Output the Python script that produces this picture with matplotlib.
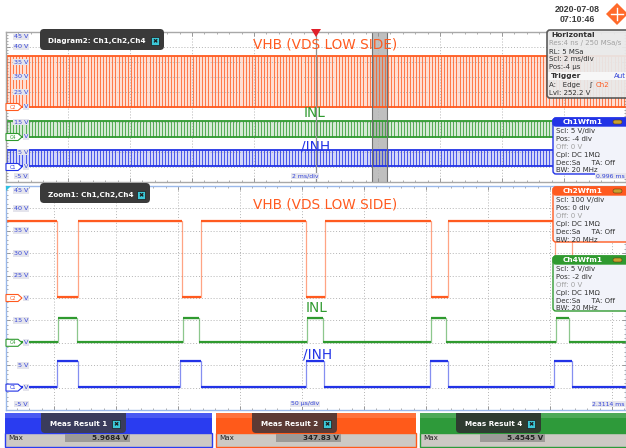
import matplotlib
matplotlib.use('Agg')
import matplotlib.pyplot as plt
import numpy as np
from matplotlib.patches import Rectangle, FancyBboxPatch, Polygon

W, H = 626, 448
fig = plt.figure(figsize=(W / 100, H / 100), dpi=100)
plt.rcParams['font.family'] = ['DejaVu Sans']

ORANGE = '#ff5a1f'
GREEN = '#2f9a2f'
BLUE = '#2233e6'
TXTBLUE = '#3545d8'

# ---------------- data ----------------
volt_ticks = [45, 40, 35, 30, 25, 20, 15, 10, 5, 0, -5]
volt_labels = ['45 V', '40 V', '35 V', '30 V', '25 V', 'V', '15 V', 'V', '5 V', 'V', '-5 V']

# overview (Diagram2), time in ms, 2 ms/div
top_xlim = (-10.0, 10.0)
top_period_ms = 0.1            # one switching period (read from zoom: ~100 us)
zoom_window_ms = (1.8, 2.3)

vhb_high, vhb_low = 37.0, 20.0
inl_high, inl_low = 15.3, 10.0
inh_high, inh_low = 5.5, 0.3

# zoom (Zoom1), time in us, 50 us/div
bot_xlim = (-38.7, 461.3)
vhb_low_start = [2.4, 103.0, 203.0, 304.0, 404.0]
vhb_low_end = [19.4, 118.5, 218.5, 318.0, 418.0]
inl_high_start = [3.2, 104.0, 204.0, 304.0, 405.0]
inl_high_end = [18.5, 117.0, 217.0, 316.0, 415.0]
inh_high_start = [2.4, 102.0, 203.0, 303.0, 403.0]
inh_high_end = [19.4, 118.5, 218.0, 318.0, 418.0]
zvhb_high, zvhb_low = 37.2, 20.2
zinl_high, zinl_low = 15.5, 10.2
zinh_high, zinh_low = 5.9, 0.1

meas_names = ['Meas Result 1', 'Meas Result 2', 'Meas Result 4']
meas_values = ['5.9684 V', '347.83 V', '5.4545 V']


def px_axes(x0, y0, x1, y1):
    return fig.add_axes([x0 / W, 1 - y1 / H, (x1 - x0) / W, (y1 - y0) / H])


def step_xy(starts, ends, base, pulse, x0, x1):
    xs, ys = [x0], [base]
    for s, e in zip(starts, ends):
        xs += [s, s, e, e]
        ys += [base, pulse, pulse, base]
    xs.append(x1)
    ys.append(base)
    return xs, ys


def setup_panel(ax, xlim, xmaj, xmin, edge):
    ax.set_xlim(xlim)
    ax.set_ylim(-5, 45)
    ax.set_xticks(np.arange(np.ceil(xlim[0] / xmaj) * xmaj, xlim[1], xmaj))
    ax.set_xticks(np.arange(np.ceil(xlim[0] / xmin) * xmin, xlim[1], xmin), minor=True)
    ax.set_yticks(volt_ticks)
    ax.set_yticks(np.arange(-5, 46, 1), minor=True)
    ax.grid(True, which='major', color='#b4b4b4', ls=(0, (1, 2)), lw=0.7)
    ax.tick_params(which='both', direction='in', labelleft=False, labelbottom=False,
                   top=True, right=True, color='#8a8a8a')
    ax.tick_params(which='major', length=3, width=0.6)
    ax.tick_params(which='minor', length=1.5, width=0.5)
    for s in ax.spines.values():
        s.set_color(edge)
        s.set_linewidth(1.0)


# ---------------- top panel ----------------
axt = px_axes(6, 32, 626, 182)
setup_panel(axt, top_xlim, 2.0, 0.4, '#a8a8a8')
pulse_t = np.arange(top_xlim[0] + 0.03, top_xlim[1], top_period_ms)
for hi, lo, c in [(vhb_high, vhb_low, ORANGE), (inl_high, inl_low, GREEN), (inh_high, inh_low, BLUE)]:
    axt.fill_between(top_xlim, lo, hi, color=c, alpha=0.2, lw=0)
    axt.vlines(pulse_t, lo, hi, color=c, lw=0.6, alpha=0.9)
    axt.hlines([hi, lo], *top_xlim, color=c, lw=1.3)
axt.axvspan(*zoom_window_ms, color='#8c8c8c', alpha=0.55, lw=0)
axt.axvline(zoom_window_ms[0], color='#707070', lw=0.8)
axt.axvline(zoom_window_ms[1], color='#707070', lw=0.8)
axt.axvline(0, color='#909090', lw=0.9)

# ---------------- bottom panel ----------------
axb = px_axes(6, 186, 626, 410)
setup_panel(axb, bot_xlim, 50.0, 10.0, '#9ab8ea')
for (st, en, base, pul, c) in [
        (vhb_low_start, vhb_low_end, zvhb_high, zvhb_low, ORANGE),
        (inl_high_start, inl_high_end, zinl_low, zinl_high, GREEN),
        (inh_high_start, inh_high_end, zinh_low, zinh_high, BLUE)]:
    xs, ys = step_xy(st, en, base, pul, bot_xlim[0], bot_xlim[1])
    axb.plot(xs, ys, color=c, lw=0.9, alpha=0.55)
    flat_x = [bot_xlim[0]] + [v for pair in zip(st, en) for v in pair] + [bot_xlim[1]]
    for i in range(0, len(flat_x) - 1):
        lvl = base if i % 2 == 0 else pul
        axb.plot([flat_x[i], flat_x[i + 1]], [lvl, lvl], color=c, lw=1.6, solid_capstyle='butt')

# ---------------- overlay (UI) ----------------
ov = fig.add_axes([0, 0, 1, 1], zorder=10)
ov.set_xlim(0, W)
ov.set_ylim(H, 0)
ov.axis('off')
ov.patch.set_alpha(0)


def vlabels(y_top, y_bot):
    step = (y_bot - y_top) / 10
    for i, (v, lab) in enumerate(zip(volt_ticks, volt_labels)):
        y = y_top + i * step
        if i == 0:
            y += 5
        if i == 10:
            y -= 6
        ov.text(28, y, lab, fontsize=4.6, color=TXTBLUE, ha='right', va='center',
                bbox=dict(boxstyle='square,pad=0.15', fc='#e4e4ec', ec='none'))
    return step


def chan_tag(y, name, c):
    pts = [(6, y - 3.5), (18, y - 3.5), (22, y), (18, y + 3.5), (6, y + 3.5)]
    ov.add_patch(Polygon(pts, closed=True, fc='white', ec=c, lw=0.8))
    ov.text(12.5, y + 0.2, name, fontsize=3.6, color=c, ha='center', va='center')


for (yt, yb) in [(32, 182), (186, 410)]:
    st = vlabels(yt, yb)
    chan_tag(yt + 5 * st, 'C2', ORANGE)
    chan_tag(yt + 7 * st, 'C4', GREEN)
    chan_tag(yt + 9 * st, 'C1', BLUE)

# trigger marker
ov.add_patch(Polygon([(311, 29), (321, 29), (316, 37)], closed=True, fc='#e0202a', ec='none'))
# zoom-panel corner marker
ov.add_patch(Polygon([(6, 186), (11, 186), (6, 191)], closed=True, fc='#30c0e0', ec='none'))


def tab(x0, x1, y0, y1, text, fc='#3a3a3a'):
    ov.add_patch(FancyBboxPatch((x0, y0 - 4), x1 - x0, y1 - y0 + 4,
                                boxstyle='round,pad=0,rounding_size=4', fc=fc, ec='none'))
    ov.text(x0 + 8, (y0 + y1) / 2, text, fontsize=5.2, color='white', weight='bold',
            ha='left', va='center')
    ov.add_patch(Rectangle((x1 - 13, (y0 + y1) / 2 - 4), 8, 8, fc='#3cc8d8', ec='#1a1a1a', lw=0.5))
    ov.text(x1 - 9, (y0 + y1) / 2 + 0.3, '✖', fontsize=4.5, color='#1a1a1a', ha='center', va='center')


tab(40, 164, 33, 50, 'Diagram2: Ch1,Ch2,Ch4')
tab(40, 150, 187, 203, 'Zoom1: Ch1,Ch2,Ch4')

# signal names
for (x, y, t, c) in [(325, 44, 'VHB (VDS LOW SIDE)', ORANGE), (315, 113, 'INL', GREEN),
                     (316, 146, '/INH', BLUE), (325, 204, 'VHB (VDS LOW SIDE)', ORANGE),
                     (317, 308, 'INL', GREEN), (318, 355, '/INH', BLUE)]:
    ov.text(x, y, t, fontsize=9.8, color=c, ha='center', va='center')

# time-base annotations
for (x, y, t, ha) in [(305, 176, '2 ms/div', 'center'), (625, 176, '0.996 ms', 'right'),
                      (305, 404, '50 µs/div', 'center'), (625, 404, '2.3114 ms', 'right')]:
    ov.text(x, y, t, fontsize=4.4, color=TXTBLUE, ha=ha, va='center',
            bbox=dict(boxstyle='square,pad=0.15', fc='#e6e6ee', ec='none'))

# timestamp + logo
ov.text(577, 10, '2020-07-08', fontsize=6.3, weight='bold', color='#3a3a3a', ha='center',
        va='center', family='Liberation Sans')
ov.text(577, 20, '07:10:46', fontsize=6.3, weight='bold', color='#3a3a3a', ha='center',
        va='center', family='Liberation Sans')
ov.add_patch(Polygon([(617, 3), (628, 14), (617, 25), (606, 14)], closed=True, fc='#ff6a2a', ec='none'))
ov.plot([611, 623], [14, 14], color='white', lw=1)
ov.plot([617, 617], [8, 20], color='white', lw=1)

# Horizontal info box
ov.add_patch(FancyBboxPatch((547, 30), 84, 68, boxstyle='round,pad=0,rounding_size=3',
                            fc='#e9e9e9', ec='#505050', lw=1.2, alpha=0.93))
ov.add_patch(Rectangle((548, 72), 80, 8, fc='#f7f7f7', ec='none'))
fs = 5.0
ov.text(551, 35, 'Horizontal', fontsize=fs + 0.3, weight='bold', color='#303030', va='center')
ov.text(549, 43.5, 'Res:4 ns / 250 MSa/s', fontsize=fs, color='#a0a0a0', va='center')
ov.text(549, 51.5, 'RL: 5 MSa', fontsize=fs, color='#303030', va='center')
ov.text(549, 59.5, 'Scl: 2 ms/div', fontsize=fs, color='#303030', va='center')
ov.text(549, 67.5, 'Pos:-4 µs', fontsize=fs, color='#303030', va='center')
ov.text(551, 76, 'Trigger', fontsize=fs + 0.3, weight='bold', color='#303030', va='center')
ov.text(614, 76, 'Aut', fontsize=fs, color=TXTBLUE, va='center')
ov.text(549, 85, 'A:   Edge', fontsize=fs, color='#303030', va='center')
ov.text(589, 85, 'ʃ', fontsize=fs, color='#303030', va='center')
ov.text(596, 85, 'Ch2', fontsize=fs, color=ORANGE, va='center')
ov.text(549, 93, 'Lvl: 252.2 V', fontsize=fs, color='#303030', va='center')


def wfm_box(y0, y1, title, c, lines):
    ov.add_patch(FancyBboxPatch((553, y0), 78, y1 - y0, boxstyle='round,pad=0,rounding_size=3',
                                fc='#f2f3fa', ec=c, lw=1.0))
    ov.add_patch(FancyBboxPatch((553, y0), 78, 8, boxstyle='round,pad=0,rounding_size=3',
                                fc=c, ec=c, lw=1.0))
    ov.text(583, y0 + 4.2, title, fontsize=5.3, weight='bold', color='white', ha='center', va='center')
    ov.add_patch(FancyBboxPatch((613, y0 + 2), 9, 4, boxstyle='round,pad=0,rounding_size=2',
                                fc='#c8a030', ec='#604010', lw=0.4))
    for i, (t, col) in enumerate(lines):
        ov.text(556, y0 + 13 + i * 7.9, t, fontsize=fs, color=col, va='center')


def std_lines(scl, pos):
    return [('Scl: ' + scl, '#303030'), ('Pos: ' + pos, '#303030'), ('Off: 0 V', '#a0a0a0'),
            ('Cpl: DC 1MΩ', '#303030'), ('Dec:Sa     TA: Off', '#303030'), ('BW: 20 MHz', '#303030')]


wfm_box(118, 174, 'Ch1Wfm1', BLUE, std_lines('5 V/div', '-4 div'))
wfm_box(187, 242, 'Ch2Wfm1', ORANGE, std_lines('100 V/div', '0 div'))
wfm_box(256, 311, 'Ch4Wfm1', GREEN, std_lines('5 V/div', '-2 div'))

# Measurement result panels
panels = [(5, 212, '#2a3cf0', '#3a3c5c'), (216, 416, '#ff5a1a', '#5c3a34'), (420, 628, '#2e9a3a', '#2e3c30')]
for (x0, x1, c, tc), name, val in zip(panels, meas_names, meas_values):
    ov.add_patch(Rectangle((x0, 413), x1 - x0, 20, fc=c, ec='none'))
    ov.add_patch(Rectangle((x0, 413), x1 - x0, 5, fc='white', ec='none', alpha=0.15))
    ov.add_patch(Rectangle((x0, 433), x1 - x0, 14, fc='#cdc9c4', ec=c, lw=1.0))
    ov.add_patch(Rectangle((x0 + 60, 434), 65, 8, fc='#9c9a97', ec='none'))
    ov.text(x0 + 3, 438, 'Max', fontsize=5.2, color='#222222', va='center')
    ov.text(x0 + 123, 438, val, fontsize=5.2, weight='bold', color='#222222', ha='right', va='center')
    tx0, tx1 = x0 + 36, x0 + 121
    ov.add_patch(Rectangle((tx0, 413), tx1 - tx0, 8, fc=tc, ec='none'))
    ov.add_patch(FancyBboxPatch((tx0, 413), tx1 - tx0, 20, boxstyle='round,pad=0,rounding_size=4',
                                fc=tc, ec='none'))
    ov.text(tx0 + 9, 424, name, fontsize=5.2, weight='bold', color='white', va='center')
    ov.add_patch(Rectangle((tx1 - 14, 420), 8, 8, fc='#3cc8d8', ec='#1a1a1a', lw=0.5))
    ov.text(tx1 - 10, 424.3, '✖', fontsize=4.5, color='#1a1a1a', ha='center', va='center')

fig.savefig('out.png', dpi=100)
